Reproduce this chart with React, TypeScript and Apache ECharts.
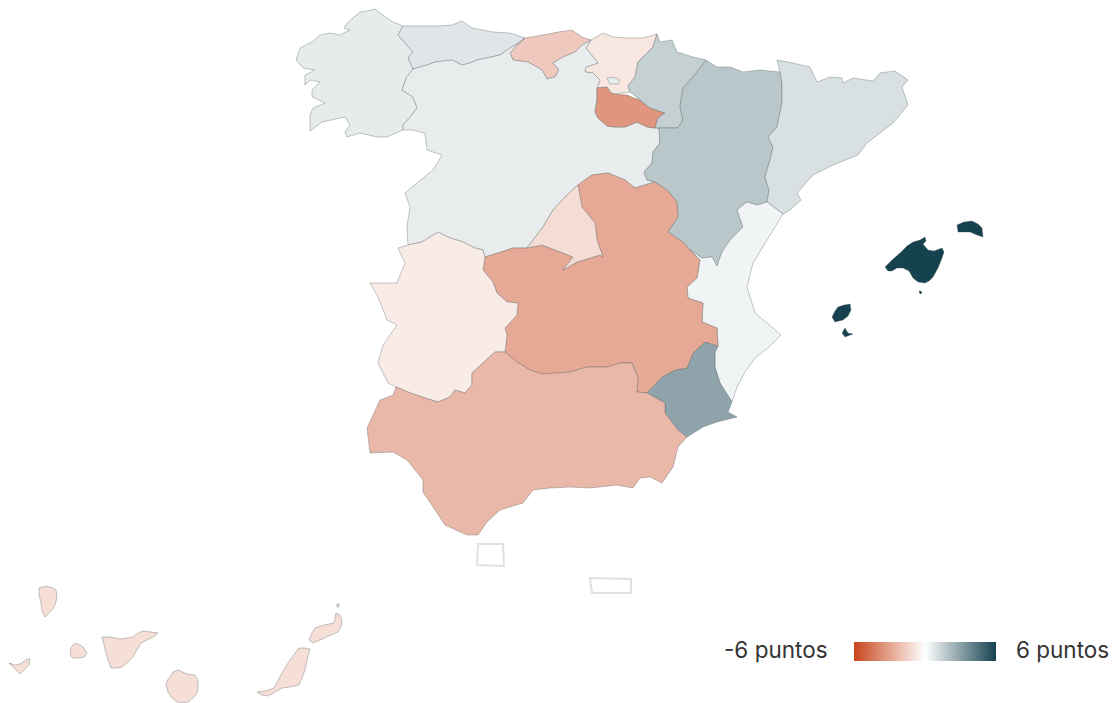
import React, { useEffect, useRef } from "react";
import * as echarts from "echarts";

type Pt = [number, number];

// Shared borders, in the reference map's own plane
const galiciaCyl: Pt[] = [[403,130],[403,125],[411,116],[417,108],[413,97],[402,90],[406,78],[413,69]];
const galiciaAst: Pt[] = [[413,69],[408,58],[413,52],[405,43],[398,35],[403,26]];
const astCyl: Pt[] = [[525,38],[517,44],[510,48],[500,55],[487,58],[477,60],[470,63],[462,65],[452,60],[443,61],[435,62],[427,65],[413,69]];
const cantCyl: Pt[] = [[591,40],[582,45],[575,52],[563,57],[553,63],[559,70],[555,77],[547,79],[542,70],[528,62],[513,60],[510,53],[516,46],[525,38]];
const paisCyl: Pt[] = [[597,88],[600,80],[593,73],[585,72],[586,67],[598,63],[590,53],[586,48],[591,40]];
const riojaCyl: Pt[] = [[655,128],[647,127],[637,122],[630,125],[625,127],[615,127],[607,126],[598,118],[595,112],[597,100],[597,88]];
const riojaTop: Pt[] = [[597,88],[607,87],[610,92],[613,94],[627,95],[634,98],[640,100],[650,108],[665,113],[658,118],[655,128]];
const paisNav: Pt[] = [[628,86],[635,77],[638,62],[653,47],[657,34]];
const navAragon: Pt[] = [[659,128],[678,128],[683,120],[680,107],[683,88],[693,77],[706,60]];
const aragonCat: Pt[] = [[780,72],[782,83],[782,103],[777,127],[768,137],[773,147],[770,160],[765,177],[769,190],[767,202]];
const aragonVal: Pt[] = [[767,202],[757,205],[747,202],[737,210],[743,227],[730,240],[722,252],[717,266],[712,257],[702,258],[690,250]];
const aragonClm: Pt[] = [[690,250],[683,242],[668,232],[678,217],[677,202],[667,190],[655,182]];
const aragonCyl: Pt[] = [[655,182],[647,180],[644,172],[652,163],[653,152],[660,143],[659,128]];
const valCoast: Pt[] = [[783,214],[767,240],[753,263],[747,287],[755,313],[773,328],[781,335],[768,348],[755,358],[745,372],[737,387],[732,402]];
const valMurcia: Pt[] = [[732,402],[720,383],[715,367],[715,352],[718,346]];
const valClm: Pt[] = [[718,346],[717,328],[702,322],[703,303],[688,298],[687,287],[697,278],[700,260],[690,250]];
const murciaClm: Pt[] = [[718,346],[705,342],[693,353],[687,368],[675,370],[662,377],[647,393]];
const murciaAnd: Pt[] = [[647,393],[665,403],[665,413],[678,430],[687,437]];
const clmAnd: Pt[] = [[647,393],[637,392],[638,378],[632,363],[620,363],[607,367],[587,367],[570,372],[557,373],[542,374],[530,370],[517,362],[505,352]];
const clmExt: Pt[] = [[505,352],[507,335],[505,328],[517,315],[518,303],[507,302],[497,293],[493,282],[483,270],[485,257]];
const clmCylTop: Pt[] = [[485,257],[498,253],[513,248],[527,248]];
const madridClm: Pt[] = [[527,248],[542,245],[563,253],[573,257],[563,270],[577,262],[600,255],[603,257],[597,240],[595,223],[582,207],[578,185]];
const madridCyl: Pt[] = [[578,185],[567,195],[553,210],[543,227],[527,248]];
const clmCyl: Pt[] = [[578,185],[592,175],[608,173],[625,180],[635,188],[655,182]];
const extCyl: Pt[] = [[485,257],[483,250],[475,248],[463,242],[450,238],[438,232],[422,242],[408,245]];
const extAnd: Pt[] = [[505,352],[495,352],[472,373],[472,385],[465,393],[455,390],[450,397],[438,402],[422,397],[408,392],[396,387]];

const r = (a: Pt[]): Pt[] => [...a].reverse();

const galicia: Pt[][] = [[
  [393,22],[380,13],[375,9],[367,11],[360,12],[354,17],[348,22],[344,28],[350,30],[340,35],[330,33],[320,35],[312,42],[300,48],[296,60],[303,68],[315,70],[305,75],[305,85],[310,80],[320,82],[312,90],[312,97],[325,103],[313,108],[310,115],[310,131],[322,122],[345,117],[350,125],[345,132],[347,137],[360,133],[377,137],[387,137],
  ...galiciaCyl, ...galiciaAst,
]];
const asturias: Pt[][] = [[[403,26],[423,26],[440,26],[452,25],[462,21],[472,28],[493,32],[510,33],[525,38], ...astCyl, ...galiciaAst]];
const cantabria: Pt[][] = [[[525,38],[543,35],[558,32],[572,30],[582,37],[591,40], ...cantCyl]];
const paisVasco: Pt[][] = [[[591,40],[603,33],[613,37],[628,38],[643,38],[657,34], ...r(paisNav), [630,92],[613,94],[607,87],[597,88], ...paisCyl]];
const rioja: Pt[][] = [[...riojaTop, ...riojaCyl]];
const navarra: Pt[][] = [[[657,34],[660,42],[672,40],[677,52],[693,57],[706,60], ...r(navAragon), [655,128],[658,118],[665,113],[650,108],[640,100],[630,92],[628,86], ...paisNav]];
const aragon: Pt[][] = [[[706,60],[717,67],[730,67],[743,72],[760,70],[780,72], ...aragonCat, ...aragonVal, ...aragonClm, ...aragonCyl, ...navAragon]];
const cataluna: Pt[][] = [[[777,60],[793,63],[810,67],[817,82],[830,77],[842,78],[843,83],[853,78],[873,81],[880,73],[895,71],[908,80],[902,87],[908,105],[893,123],[867,143],[858,155],[833,165],[813,175],[797,193],[801,200],[790,210],[783,214],[767,202], ...r(aragonCat)]];
const valencia: Pt[][] = [[[767,202], ...valCoast, ...valMurcia, ...valClm, ...r(aragonVal)]];
const murcia: Pt[][] = [[...r(murciaClm), ...r(valMurcia).slice(1), [728,412],[737,417],[717,422],[703,427],[687,437], ...r(murciaAnd)]];
const clm: Pt[][] = [[...clmCyl, ...r(aragonClm), ...r(valClm), ...murciaClm, ...clmAnd, ...clmExt, ...clmCylTop, ...madridClm]];
const madrid: Pt[][] = [[...r(madridCyl), ...r(madridClm)]];
const cyl: Pt[][] = [
  [
    ...r(astCyl), ...r(cantCyl), ...r(paisCyl), ...r(riojaCyl), ...r(aragonCyl), ...r(clmCyl), ...madridCyl, ...r(clmCylTop), ...extCyl,
    [407,227],[410,207],[405,193],[417,183],[433,170],[442,155],[427,150],[425,133],[412,130], ...galiciaCyl,
  ],
  [[607,78],[614,77],[620,80],[618,84],[610,84]],
];
const extremadura: Pt[][] = [[...r(extCyl), ...r(clmExt), ...extAnd, [388,383],[378,363],[383,345],[397,325],[387,320],[378,297],[370,283],[397,283],[405,263],[398,248]]];
const andalucia: Pt[][] = [[...r(extAnd), ...r(clmAnd), ...murciaAnd, [678,447],[673,467],[662,483],[650,477],[640,478],[633,488],[617,485],[590,488],[570,487],[550,488],[533,490],[523,503],[500,510],[487,522],[478,535],[467,535],[445,525],[433,507],[423,492],[423,480],[407,460],[393,452],[370,453],[367,428],[380,400],[393,395]]];
const baleares: Pt[][] = [
  [[885,267],[892,260],[900,253],[907,246],[913,242],[920,240],[925,237],[926,241],[923,244],[928,250],[934,251],[942,248],[944,252],[942,258],[938,268],[933,277],[929,281],[925,283],[918,282],[913,278],[909,271],[903,268],[897,268],[892,271],[888,271]],
  [[957,225],[964,222],[972,221],[978,224],[982,228],[983,237],[977,235],[970,232],[958,232]],
  [[832,317],[835,311],[838,307],[844,305],[850,304],[851,310],[848,316],[843,320],[835,322]],
  [[842,333],[845,328],[848,333],[853,334],[845,337]],
  [[919,291],[921,291],[922,293],[920,294]],
];
const canarias: Pt[][] = [
  [[39,588],[46,586],[53,588],[56,590],[57,598],[55,605],[52,610],[45,617],[42,611],[41,603],[39,595]],
  [[9,663],[15,665],[20,664],[23,662],[27,659],[30,659],[29,665],[25,669],[20,674],[16,670]],
  [[70,650],[72,646],[75,643],[80,645],[83,647],[87,653],[84,657],[79,658],[73,658],[71,656]],
  [[102,637],[110,637],[120,639],[127,638],[133,637],[138,633],[143,631],[151,632],[158,633],[153,637],[147,640],[141,643],[137,650],[133,657],[128,662],[122,667],[116,668],[111,668],[108,660],[106,653],[104,645]],
  [[166,685],[168,679],[170,677],[173,672],[178,670],[187,674],[195,675],[198,681],[198,687],[197,693],[193,698],[188,702],[183,703],[177,702],[172,698],[168,692]],
  [[257,692],[265,691],[274,688],[278,680],[282,673],[288,663],[295,653],[299,648],[305,648],[310,649],[307,660],[305,670],[302,678],[299,685],[290,687],[282,688],[275,692],[268,696],[262,695]],
  [[309,640],[312,633],[315,628],[324,625],[334,623],[336,613],[340,615],[342,620],[341,627],[338,632],[329,636],[320,640],[313,643]],
  [[337,604],[339,604],[339,607],[337,607]],
];
const ceuta: Pt[][] = [[[478,544],[503,544],[504,566],[477,565]]];
const melilla: Pt[][] = [[[590,578],[631,579],[631,593],[592,593]]];

// Painted in this order, so Castilla y León's Treviño enclave lands above the País Vasco
const regionNames = ["Galicia","Asturias","Cantabria","País Vasco","Castilla y León","La Rioja","Navarra","Aragón","Cataluña","C. Valenciana","Murcia","Castilla-La Mancha","Madrid","Extremadura","Andalucía","Baleares","Canarias","Ceuta","Melilla"];
const regionShapes = [galicia,asturias,cantabria,paisVasco,cyl,rioja,navarra,aragon,cataluna,valencia,murcia,clm,madrid,extremadura,andalucia,baleares,canarias,ceuta,melilla];
const regionValues = [0.65,0.8,-1.75,-0.8,0.6,-3.4,1.5,1.8,1.0,0.35,2.9,-2.8,-1.1,-0.65,-2.3,6,-1.05,0,0];
const legendLabels = ["-6 puntos","6 puntos"];
const scaleStops = ["#c8461c","#ffffff","#16424f"];

export default function App() {
  const ref = useRef<HTMLDivElement>(null);
  useEffect(() => {
    document.body.style.margin = "0";
    const chart = echarts.init(ref.current!, undefined, { renderer: "svg" });
    echarts.registerMap("spain", {
      type: "FeatureCollection",
      features: regionNames.map((name, i) => ({
        type: "Feature",
        properties: { name },
        geometry: { type: "MultiPolygon", coordinates: regionShapes[i].map((ring) => [[...ring, ring[0]]]) },
      })),
    } as any);
    chart.setOption({
      animation: false,
      backgroundColor: "#ffffff",
      visualMap: {
        type: "continuous", min: -6, max: 6, show: false, inRange: { color: scaleStops },
      },
      series: [{
        type: "map", map: "spain", silent: true, left: 0, top: 0, width: 1112, height: 703, aspectScale: 1,
        projection: { project: (p: number[]) => p, unproject: (p: number[]) => p },
        boundingCoords: [[0, 0], [1112, 703]],
        roam: false, showLegendSymbol: false, label: { show: false },
        itemStyle: { borderColor: "rgba(70,80,85,0.32)", borderWidth: 1 },
        data: regionNames.map((name, i) => ({
          name, value: regionValues[i],
          ...(name === "Ceuta" || name === "Melilla" ? { itemStyle: { areaColor: "#fdfdfd", borderColor: "#e0e0e0", borderWidth: 2 } } : {}),
        })),
      }],
      graphic: [
        {
          type: "rect", x: 854, y: 642, shape: { width: 142, height: 19 },
          style: {
            fill: new echarts.graphic.LinearGradient(0, 0, 1, 0, scaleStops.map((color, i) => ({ offset: i / (scaleStops.length - 1), color }))),
          },
        },
        { type: "text", left: 724, top: 638, style: { text: legendLabels[0], font: "22.5px Inter", fill: "#333333" } },
        { type: "text", left: 1016, top: 638, style: { text: legendLabels[1], font: "22.5px Inter", fill: "#333333" } },
      ],
    });
    return () => chart.dispose();
  }, []);
  return <div ref={ref} style={{ position: "absolute", left: 0, top: 0, width: 1112, height: 703 }} />;
}
